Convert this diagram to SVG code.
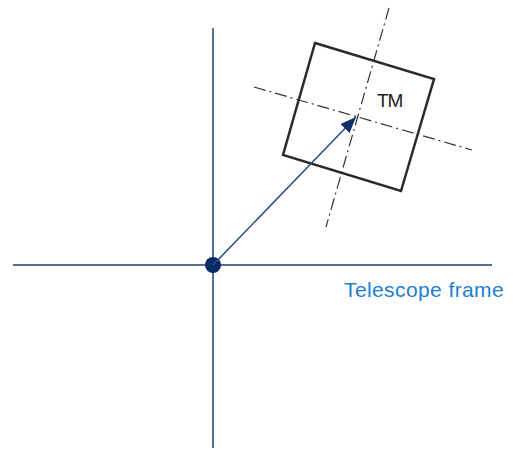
<svg xmlns="http://www.w3.org/2000/svg" width="513" height="449" viewBox="0 0 513 449">
<style>
.axis{stroke:#1f3c73;stroke-width:1.5;fill:none}
.cl{stroke:#333;stroke-width:1.2;stroke-dasharray:12,4,2,4;fill:none}
.box{stroke:#2a2a2a;stroke-width:2.5;fill:none}
</style>
<defs>
<marker id="ah" markerWidth="16" markerHeight="13" refX="16" refY="6.5" orient="auto" markerUnits="userSpaceOnUse" viewBox="0 0 16 13">
<path d="M0,0 L16,6.5 L0,13 Z" fill="#0f2f6b"/>
</marker>
</defs>
<rect width="513" height="449" fill="#fff"/>
<g id="frame">
<line class="axis" x1="13" y1="265" x2="492" y2="265"/>
<line class="axis" x1="213" y1="28" x2="213" y2="448"/>
<circle cx="213" cy="265" r="8" fill="#0a2a66"/>
<text x="344" y="297" font-family="Liberation Sans, Arial, sans-serif" font-size="21" letter-spacing="0.4" fill="#1e7fd0">Telescope frame</text>
</g>
<g id="tm">
<polygon class="box" points="315,43 434,79 401,191 283,155"/>
<line class="cl" x1="254" y1="87" x2="472" y2="150"/>
<line class="cl" x1="389" y1="8" x2="326" y2="227"/>
<text x="377" y="107" font-family="Liberation Sans, Arial, sans-serif" font-size="19" letter-spacing="-1.2" fill="#222">TM</text>
</g>
<g id="connectors">
<line x1="213" y1="265" x2="356" y2="117" stroke="#2b4a80" stroke-width="1.5" marker-end="url(#ah)"/>
</g>
</svg>
